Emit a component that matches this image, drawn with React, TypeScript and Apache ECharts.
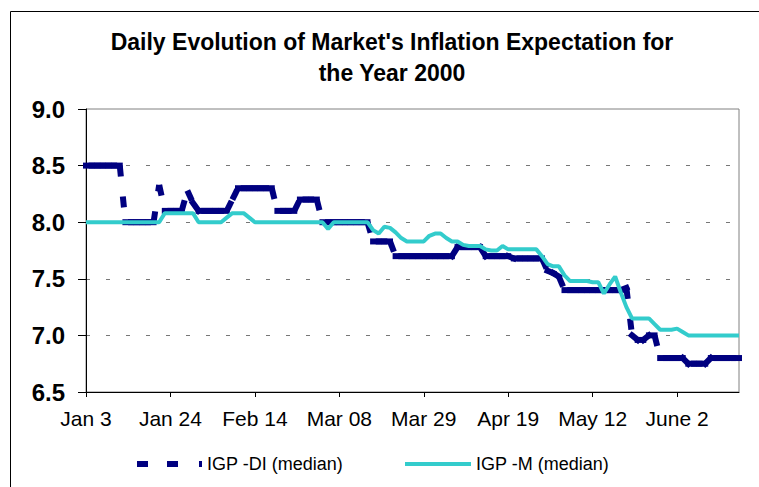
import React, { useEffect, useRef } from "react";
import * as echarts from "echarts";

// Tick labels every 15 business days
const tickLabels = ["Jan 3", "Jan 24", "Feb 14", "Mar 08", "Mar 29", "Apr 19", "May 12", "June 2"];

// IGP-DI (median), daily
const igpDi = [
  8.5, 8.5, 8.5, 8.5, 8.5, 8.5, 8.5,
  8.0, 8.0, 8.0, 8.0, 8.0, 8.0,
  8.33,
  8.1, 8.1, 8.1, 8.1,
  8.28, 8.17,
  8.1, 8.1, 8.1, 8.1, 8.1, 8.1,
  8.2,
  8.3, 8.3, 8.3, 8.3, 8.3, 8.3, 8.3,
  8.1, 8.1, 8.1, 8.1,
  8.2, 8.2, 8.2, 8.2,
  8.0, 8.0, 8.0, 8.0, 8.0, 8.0, 8.0, 8.0, 8.0,
  7.83, 7.83, 7.83, 7.83,
  7.7, 7.7, 7.7, 7.7, 7.7, 7.7, 7.7, 7.7, 7.7, 7.7, 7.7,
  7.78, 7.78, 7.78, 7.78, 7.78,
  7.7, 7.7, 7.7, 7.7, 7.7,
  7.68, 7.68, 7.68, 7.68, 7.68, 7.68,
  7.57, 7.55, 7.52,
  7.4, 7.4, 7.4, 7.4, 7.4, 7.4, 7.4, 7.4, 7.4, 7.4, 7.4,
  7.42, 7.0, 6.96, 6.96, 7.0, 7.0,
  6.8, 6.8, 6.8, 6.8, 6.8,
  6.75, 6.75, 6.75, 6.75,
  6.8, 6.8, 6.8, 6.8, 6.8, 6.8,
];

// IGP-M (median), daily
const igpM = [
  8.0, 8.0, 8.0, 8.0, 8.0, 8.0, 8.0, 8.0, 8.0, 8.0, 8.0, 8.0, 8.0, 8.0,
  8.08, 8.08, 8.08, 8.08, 8.08, 8.08,
  8.0, 8.0, 8.0, 8.0, 8.0,
  8.04, 8.08, 8.08, 8.08, 8.04,
  8.0, 8.0, 8.0, 8.0, 8.0, 8.0, 8.0, 8.0, 8.0, 8.0, 8.0, 8.0, 8.0,
  7.94,
  8.0, 8.0, 8.0, 8.0, 8.0, 8.0, 8.0,
  7.93, 7.9, 7.96, 7.95, 7.91, 7.86,
  7.83, 7.83, 7.83, 7.83,
  7.88, 7.9, 7.9, 7.86, 7.83, 7.83,
  7.8, 7.79, 7.79, 7.79, 7.76, 7.75, 7.75, 7.79, 7.76,
  7.76, 7.76, 7.76, 7.76, 7.76,
  7.7, 7.63, 7.61, 7.61, 7.53,
  7.48, 7.48, 7.48, 7.48, 7.47, 7.47,
  7.37, 7.45, 7.52, 7.38, 7.25,
  7.15, 7.15, 7.15, 7.15,
  7.1, 7.05, 7.05, 7.05, 7.06, 7.03,
  7.0, 7.0, 7.0, 7.0, 7.0, 7.0, 7.0, 7.0, 7.0, 7.0,
];

const seriesNames = ["IGP -DI (median)", "IGP -M (median)"];
const titleText = "Daily Evolution of Market's Inflation Expectation for\nthe Year 2000";

const FONT = "'Liberation Sans', Arial, Helvetica, sans-serif";
const NAVY = "#000080";
const CYAN = "#33CCCC";
const DASH = 11;

export default function App() {
  const ref = useRef<HTMLDivElement>(null);

  useEffect(() => {
    if (!ref.current) return;
    const chart = echarts.init(ref.current, undefined, { renderer: "svg" });

    const categories = igpDi.map((_, i) => (i % 15 === 0 ? tickLabels[i / 15] : `d${i}`));

    const option: any = {
      animation: false,
      backgroundColor: "#fff",
      title: {
        text: titleText,
        left: 392,
        top: 26,
        textAlign: "center",
        padding: 0,
        textStyle: {
          fontFamily: FONT,
          fontSize: 23,
          fontWeight: "bold",
          lineHeight: 31,
          color: "#000",
        },
      },
      graphic: [
        {
          type: "rect",
          silent: true,
          z: -10,
          shape: { x: 10.5, y: 11.5, width: 900, height: 700 },
          style: { fill: "none", stroke: "#000", lineWidth: 1 },
        },
      ],
      legend: [
        {
          data: [
            {
              name: seriesNames[0],
              icon: "path://M0,0h11v6h-11zM30,0h11v6h-11zM62,0h3v6h-3z",
              itemStyle: { color: NAVY },
            },
          ],
          left: 137,
          top: 455,
          padding: 0,
          itemWidth: 65,
          itemHeight: 6,
          selectedMode: false,
          textStyle: { fontFamily: FONT, fontSize: 18, color: "#000" },
        },
        {
          data: [
            {
              name: seriesNames[1],
              icon: "path://M0,0h66v4h-66z",
              itemStyle: { color: CYAN },
            },
          ],
          left: 405,
          top: 455,
          padding: 0,
          itemWidth: 66,
          itemHeight: 4,
          selectedMode: false,
          textStyle: { fontFamily: FONT, fontSize: 18, color: "#000" },
        },
      ],
      grid: {
        left: 86,
        right: 20,
        top: 109,
        bottom: 95,
        show: true,
        borderColor: "#808080",
        borderWidth: 1,
        backgroundColor: "transparent",
      },
      xAxis: {
        type: "category",
        data: categories,
        boundaryGap: false,
        axisLine: { show: true, lineStyle: { color: "#000", width: 1 } },
        axisTick: { show: true, interval: 14, length: 5, lineStyle: { color: "#000" } },
        axisLabel: {
          interval: 14,
          margin: 16,
          fontFamily: FONT,
          fontSize: 21,
          color: "#000",
        },
        splitLine: { show: false },
      },
      yAxis: {
        type: "value",
        min: 6.5,
        max: 9.0,
        interval: 0.5,
        axisLine: { show: true, lineStyle: { color: "#000", width: 1 } },
        axisTick: { show: true, length: 8, lineStyle: { color: "#000" } },
        axisLabel: {
          margin: 21,
          fontFamily: FONT,
          fontSize: 24,
          fontWeight: "bold",
          color: "#000",
          formatter: (v: number) => v.toFixed(1),
        },
        splitLine: {
          show: true,
          showMinLine: false,
          showMaxLine: false,
          lineStyle: { type: [4, 16], color: "#777", width: 1 },
        },
      },
      series: [
        {
          name: seriesNames[0],
          type: "custom",
          itemStyle: { color: NAVY },
          encode: { x: 0, y: 1 },
          data: igpDi.map((v, i) => [i, v]),
          z: 2,
          renderItem: (params: any, api: any) => {
            const i = params.dataIndex;
            if (i === 0) return null;
            const p0 = api.coord([i - 1, igpDi[i - 1]]);
            const p1 = api.coord([i, igpDi[i]]);
            const len = Math.hypot(p1[0] - p0[0], p1[1] - p0[1]);
            const short = len <= DASH;
            return {
              type: "line",
              shape: { x1: p0[0], y1: p0[1], x2: p1[0], y2: p1[1] },
              style: {
                stroke: NAVY,
                lineWidth: 6,
                lineDash: short ? null : [DASH, 20],
                lineCap: short ? "square" : "butt",
                fill: null,
              },
            };
          },
        },
        {
          name: seriesNames[1],
          type: "line",
          data: igpM,
          symbol: "none",
          showSymbol: false,
          z: 3,
          itemStyle: { color: CYAN },
          lineStyle: { color: CYAN, width: 4 },
        },
      ],
    };

    chart.setOption(option);
    return () => chart.dispose();
  }, []);

  return (
    <div
      ref={ref}
      style={{ position: "absolute", left: 0, top: 0, width: 759, height: 487 }}
    />
  );
}
